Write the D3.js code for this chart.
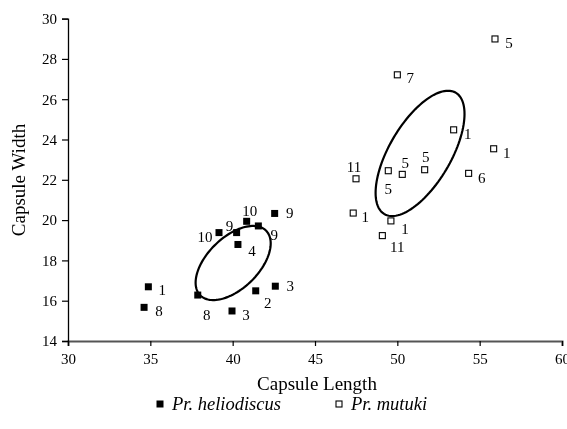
<!DOCTYPE html>
<html>
<head>
<meta charset="utf-8">
<script src="https://cdn.jsdelivr.net/npm/d3@7"></script>
<style>
  body { margin: 0; background: #fff; }
  svg { will-change: transform; }
  text { font-family: "Liberation Serif", "Times New Roman", serif; fill: #000; }
</style>
</head>
<body>
<div id="chart-area"></div>
<script>
// Pr. heliodiscus (filled squares)
var helioX = [34.88, 34.62, 37.88, 39.96, 41.40, 42.59, 40.32, 39.17, 40.24, 40.85, 41.56, 42.55];
var helioY = [16.69, 15.67, 16.28, 15.49, 16.49, 16.72, 18.79, 19.38, 19.38, 19.94, 19.71, 20.33];
var helioLabels = ["1", "8", "8", "3", "2", "3", "4", "10", "9", "10", "9", "9"];

// Pr. mutuki (open squares)
var mutukiX = [55.93, 50.00, 53.42, 55.85, 47.49, 49.45, 50.30, 51.66, 54.33, 47.32, 49.61, 49.09];
var mutukiY = [28.99, 27.21, 24.48, 23.54, 22.05, 22.45, 22.27, 22.50, 22.32, 20.35, 19.96, 19.23];
var mutukiLabels = ["5", "7", "1", "1", "11", "5", "5", "5", "6", "1", "1", "11"];

// ellipses: centre, x / y half-extent, phase (deg)
var ellipseCx = [40.03, 51.38];
var ellipseCy = [17.87, 23.31];
var ellipseRx = [2.28, 2.70];
var ellipseRy = [1.84, 3.11];
var ellipsePhase = [58, 51];

var xTicks = [30, 35, 40, 45, 50, 55, 60];
var yTicks = [14, 16, 18, 20, 22, 24, 26, 28, 30];

// label offsets (px) so numbers sit where the original had them
var helioOffsets = [[14, 3], [15, 4], [9, 20], [14, 4], [12, 12], [15, 0], [14, 7], [-14, 4], [-7, -7], [3, -10], [16, 9], [15, 0]];
var mutukiOffsets = [[14, 4], [13, 3], [14, 4], [13, 4], [-2, -12], [0, 18], [3, -11], [1, -13], [13, 5], [12, 4], [14, 8], [15, 11]];

var W = 567, H = 429;
var margin = {left: 68, top: 18.6};

var svg = d3.select("#chart-area").append("svg")
    .attr("width", W)
    .attr("height", H);

var x = d3.scaleLinear()
    .domain([30, 60])
    .range([margin.left, 562]);

var y = d3.scaleLinear()
    .domain([14, 30])
    .range([341, margin.top]);

// axes
var xAxis = svg.append("g")
    .attr("transform", "translate(0,341)")
    .call(d3.axisBottom(x).tickValues(xTicks).tickSize(5).tickPadding(7).tickFormat(d3.format("d")));
var yAxis = svg.append("g")
    .attr("transform", "translate(" + margin.left + ",0)")
    .call(d3.axisLeft(y).tickValues(yTicks).tickSize(6).tickPadding(5).tickFormat(d3.format("d")));

[xAxis, yAxis].forEach(g => {
    g.select(".domain").attr("stroke", "#000").attr("stroke-width", 1.3);
    g.selectAll(".tick line").attr("stroke", "#000").attr("stroke-width", 1.2);
    g.selectAll(".tick text")
        .style("font-family", "Liberation Serif, serif")
        .style("font-size", "15px")
        .attr("fill", "#000");
});
xAxis.select(".domain").attr("stroke", "#555").attr("stroke-width", 2);

// axis titles
svg.append("text")
    .attr("x", 317)
    .attr("y", 390)
    .attr("text-anchor", "middle")
    .style("font-size", "19px")
    .text("Capsule Length");

svg.append("text")
    .attr("transform", "translate(25,180) rotate(-90)")
    .attr("text-anchor", "middle")
    .style("font-size", "19px")
    .text("Capsule Width");

// ellipses
var line = d3.line()
    .x(d => d[0])
    .y(d => d[1])
    .curve(d3.curveLinearClosed);

ellipseCx.forEach((cx, i) => {
    var phi = ellipsePhase[i] * Math.PI / 180;
    var pts = d3.range(0, 360, 3).map(a => {
        var t = a * Math.PI / 180;
        return [x(cx + ellipseRx[i] * Math.cos(t)), y(ellipseCy[i] + ellipseRy[i] * Math.cos(t - phi))];
    });
    svg.append("path")
        .attr("d", line(pts))
        .attr("fill", "none")
        .attr("stroke", "#000")
        .attr("stroke-width", 2.2);
});

// points
var helio = helioX.map((v, i) => ({x: v, y: helioY[i], label: helioLabels[i], off: helioOffsets[i]}));
var mutuki = mutukiX.map((v, i) => ({x: v, y: mutukiY[i], label: mutukiLabels[i], off: mutukiOffsets[i]}));

svg.selectAll("rect.helio")
    .data(helio)
    .enter()
    .append("rect")
    .attr("class", "helio")
    .attr("x", d => x(d.x) - 3.5)
    .attr("y", d => y(d.y) - 3.5)
    .attr("width", 7)
    .attr("height", 7)
    .attr("fill", "#000");

svg.selectAll("rect.mutuki")
    .data(mutuki)
    .enter()
    .append("rect")
    .attr("class", "mutuki")
    .attr("x", d => x(d.x) - 3)
    .attr("y", d => y(d.y) - 3)
    .attr("width", 6)
    .attr("height", 6)
    .attr("fill", "#fff")
    .attr("stroke", "#000")
    .attr("stroke-width", 1.1);

svg.selectAll("text.ptlabel")
    .data(helio.concat(mutuki))
    .enter()
    .append("text")
    .attr("class", "ptlabel")
    .attr("x", d => x(d.x) + d.off[0])
    .attr("y", d => y(d.y) + d.off[1])
    .attr("text-anchor", "middle")
    .attr("dominant-baseline", "central")
    .style("font-size", "15px")
    .text(d => d.label);

// legend
var legend = svg.append("g");
legend.append("rect")
    .attr("x", 156.5).attr("y", 400.5)
    .attr("width", 7).attr("height", 7)
    .attr("fill", "#000");
legend.append("text")
    .attr("x", 172).attr("y", 410)
    .style("font-size", "18.5px")
    .style("font-style", "italic")
    .text("Pr. heliodiscus");
legend.append("rect")
    .attr("x", 336).attr("y", 401)
    .attr("width", 6).attr("height", 6)
    .attr("fill", "#fff")
    .attr("stroke", "#000")
    .attr("stroke-width", 1.1);
legend.append("text")
    .attr("x", 351).attr("y", 410)
    .style("font-size", "18.5px")
    .style("font-style", "italic")
    .text("Pr. mutuki");
</script>
</body>
</html>
